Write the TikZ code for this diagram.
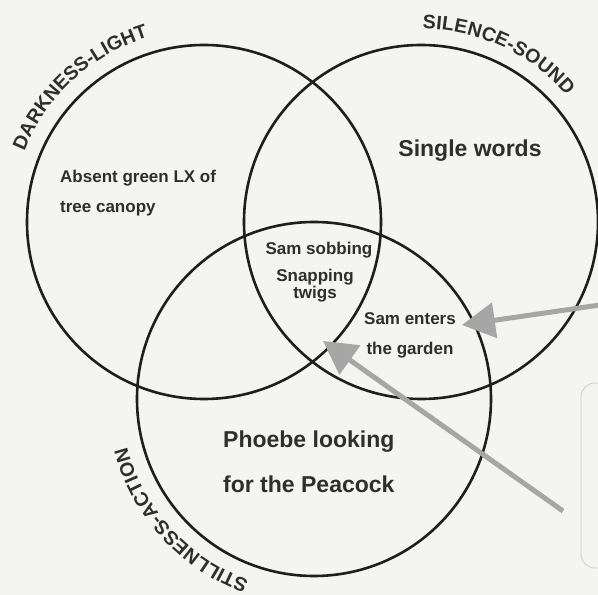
\documentclass[tikz,border=0pt]{standalone}
\usepackage{fontspec}
\setmainfont{Liberation Sans}
\usetikzlibrary{arrows.meta,decorations.text}
\definecolor{ink}{HTML}{1E1E1E}
\definecolor{txt}{HTML}{2E2E2E}
\definecolor{pointer}{HTML}{A6A6A6}
\definecolor{paper}{HTML}{F4F4F2}
\newcommand\lblfont{\bfseries\fontsize{19.5}{19.5}\selectfont}

\begin{document}
\begin{tikzpicture}[x=1pt, y=1pt,
    every node/.style={text=txt, inner sep=0pt},
    ring/.style={draw=ink, line width=2.6pt, circle, minimum size=354pt},
    lbl/.style={decorate, decoration={text along path, text color=txt,
                                      text align={fit to path}}},
    small/.style={font=\bfseries\fontsize{17}{30}\selectfont},
    big/.style={font=\bfseries\fontsize{23}{45}\selectfont},
    arrowline/.style={draw=pointer, line width=5pt,
                      -{Triangle[length=33pt, width=35pt]}}
  ]
  \useasboundingbox (0,0) rectangle (598,595);
  \fill[paper] (0,0) rectangle (598,595);
  \clip (0,0) rectangle (598,595);
  % faint box at the right edge
  \draw[gray!40, line width=0.8pt, rounded corners=14pt] (581,27) rectangle (640,212);

  % the three circles
  \node[ring] (dark) at (204,373) {};
  \node[ring] (sound) at (421,373) {};
  \node[ring] (still) at (314,196) {};

  % curved labels
  \path (dark.center) ++(158.5:193) coordinate (darkfrom);
  \path (sound.center) ++(89.5:193) coordinate (soundfrom);
  \path (still.center) ++(250.3:193) coordinate (stillfrom);
  \path[lbl, decoration={text={|\lblfont|DARKNESS-LIGHT}}]
    (darkfrom) arc[start angle=158.5, end angle=107.5, radius=193];
  \path[lbl, decoration={text={|\lblfont|SILENCE-SOUND}}]
    (soundfrom) arc[start angle=89.5, end angle=41, radius=193];
  \path[lbl, decoration={text={|\lblfont|STILLNESS-ACTION}}]
    (stillfrom) arc[start angle=250.3, end angle=194.8, radius=193];

  % texts (base = baseline of the last line)
  \node[small, anchor=base west, align=left] (absent) at (60,382) {Absent green LX of\\tree canopy};
  \node[big, anchor=base] (single) at (470,438) {Single words};
  \node[small, anchor=base] (sobbing) at (319,340) {Sam sobbing};
  \node[small, anchor=base, align=center, font=\bfseries\fontsize{17}{17.5}\selectfont] (twigs) at (315,296) {Snapping\\twigs};
  \node[small, anchor=base, align=center] (enters) at (410,240) {Sam enters\\the garden};
  \node[big, anchor=base west, align=left] (phoebe) at (223,102) {Phoebe looking\\for the Peacock};

  % pointers
  \coordinate (rightedge) at (600,290);
  \coordinate (lowright) at (563,84);
  \coordinate (enterstip) at (462,270);
  \coordinate (centretip) at (323,254);
  \draw[arrowline] (rightedge) -- (enterstip);
  \draw[arrowline] (lowright) -- (centretip);
\end{tikzpicture}
\end{document}
